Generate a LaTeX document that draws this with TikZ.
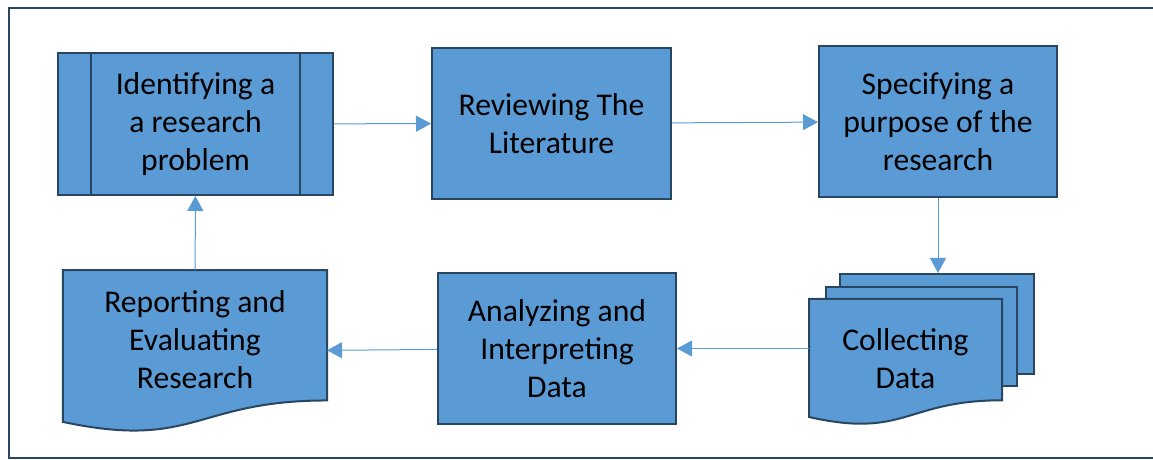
\documentclass[tikz,border=0pt]{standalone}
\usepackage{fontspec}
\setmainfont{Carlito}
\usepackage{tikz}
\usetikzlibrary{arrows.meta, calc, positioning}
\definecolor{boxblue}{HTML}{5B9BD5}
\definecolor{boxline}{HTML}{294661}
\tikzstyle{blueshape} = [draw=boxline, fill=boxblue, line width=0.4mm]
\tikzstyle{process} = [rectangle, blueshape, align=center, text centered]
\tikzstyle{sheet} = [rectangle, blueshape]
\tikzstyle{docbox} = [rectangle, outer sep=0pt]
\tikzstyle{txt} = [align=center]
\tikzstyle{arrow} = [draw=boxblue, line width=0.2mm, -{Triangle[length=3mm,width=3.2mm]}]

% flowchart "document" outline with a wavy bottom, drawn over a node's box
\newcommand{\docoutline}[1]{%
  \filldraw[blueshape] (#1.north west) -- (#1.north east)
    -- ($(#1.north east)!0.802!(#1.south east)$)
    .. controls ($(#1.north)!0.802!(#1.south)$) and ($(#1.north)!1.107!(#1.south)$)
    .. ($(#1.north west)!0.934!(#1.south west)$) -- cycle;}

\begin{document}
\begin{tikzpicture}[x=0.2mm, y=0.2mm, font=\fontsize{18}{21.6}\selectfont]
    \useasboundingbox (0,0) rectangle (1153,460);
    \draw[draw=boxline, line width=0.4mm] (1153,452.3) -| (9.3,1.7) -- (1153,1.7);

    % top row
    \node (identify) [process, minimum width=55mm, minimum height=28.4mm] at (195.5,336) {Identifying a\\a research\\problem};
    \draw[boxline, line width=0.4mm] ([xshift=6.8mm]identify.north west) -- ([xshift=6.8mm]identify.south west);
    \draw[boxline, line width=0.4mm] ([xshift=-6.8mm]identify.north east) -- ([xshift=-6.8mm]identify.south east);
    \node (review) [process, minimum width=47.8mm, minimum height=30.2mm] at (551.5,336.5) {Reviewing The\\Literature};
    \node (specify) [process, minimum width=47.6mm, minimum height=30.2mm] at (938,338.5) {Specifying a\\purpose of the\\research};

    % bottom row
    \node (sheetback) [sheet, minimum width=38.8mm, minimum height=20mm] at (937,136) {};
    \node (sheetmid) [sheet, minimum width=38.2mm, minimum height=19.8mm] at (921.5,123.5) {};
    \node (collect) [docbox, minimum width=38.6mm, minimum height=25.3mm] at (905.5,97.9) {};
    \docoutline{collect}
    \node (collecttext) [txt] at ([yshift=0.6mm]collect) {Collecting\\Data};

    \node (analyze) [process, minimum width=47.6mm, minimum height=30.2mm] at (557,111.5) {Analyzing and\\Interpreting\\Data};

    \node (report) [docbox, minimum width=52.8mm, minimum height=32.5mm] at (195,108.6) {};
    \docoutline{report}
    \node (reporttext) [txt] at ([yshift=2.3mm]report) {Reporting and\\Evaluating\\Research};

    \draw [arrow] (identify) -- (review);
    \draw [arrow] (review) -- (specify);
    \draw [arrow] (specify) -- (specify |- sheetback.north);
    \draw [arrow] (collect.west |- analyze) -- (analyze);
    \draw [arrow] (analyze) -- (report);
    \draw [arrow] (report) -- (identify);
\end{tikzpicture}
\end{document}
